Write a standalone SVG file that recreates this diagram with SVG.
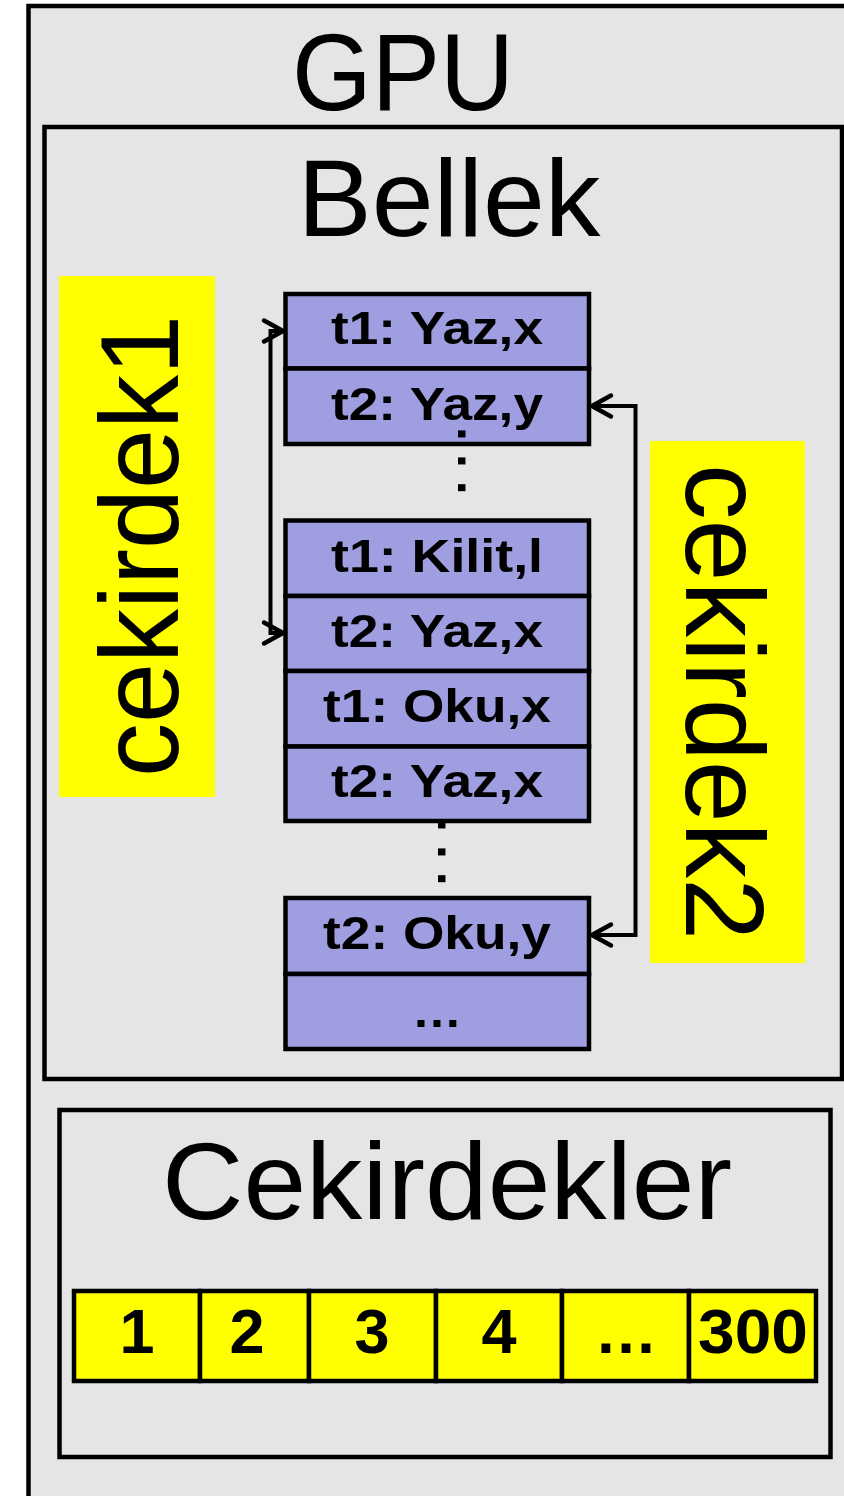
<svg xmlns="http://www.w3.org/2000/svg" width="844" height="1496" viewBox="0 0 844 1496">
  <style>
    .frame { fill: #e5e5e5; stroke: #000; stroke-width: 4.5; }
    .cell { fill: #9e9ee0; stroke: #000; stroke-width: 4.5; }
    .core { fill: #ffff00; stroke: #000; stroke-width: 4.5; }
    .band { fill: #ffff00; }
    .title { font-family: "Liberation Sans", Arial, sans-serif; font-size: 110px; fill: #000; text-anchor: middle; }
    .side { font-family: "Liberation Sans", Arial, sans-serif; font-size: 112px; fill: #000; }
    .op { font-family: "Liberation Sans", Arial, sans-serif; font-weight: bold; font-size: 47px; fill: #000; text-anchor: middle; }
    .num { font-family: "Liberation Sans", Arial, sans-serif; font-weight: bold; font-size: 63px; fill: #000; text-anchor: middle; }
    .vdots { font-family: "Liberation Sans", Arial, sans-serif; font-weight: bold; font-size: 50px; fill: #000; letter-spacing: 13px; }
    .link { fill: none; stroke: #000; stroke-width: 4; stroke-linejoin: miter; }
  </style>
  <defs>
    <marker id="chevron" markerUnits="userSpaceOnUse" viewBox="-26 -16 32 32" refX="0" refY="0" markerWidth="32" markerHeight="32" orient="auto-start-reverse">
      <path d="M-19,-10.5 L0,0 L-19,10.5" fill="none" stroke="#000" stroke-width="4.5" stroke-linecap="round" stroke-linejoin="round"/>
    </marker>
  </defs>

  <rect width="844" height="1496" fill="#ffffff"/>

  <!-- GPU enclosure -->
  <g id="gpu">
    <rect class="frame" x="28.5" y="6" width="830" height="1500"/>
    <text class="title" x="403" y="110" font-size="108" textLength="222" lengthAdjust="spacingAndGlyphs">GPU</text>
  </g>

  <!-- Memory block -->
  <g id="bellek">
    <rect class="frame" x="44.5" y="127" width="797.5" height="952"/>
    <text class="title" x="449" y="236" font-size="113" textLength="303" lengthAdjust="spacingAndGlyphs">Bellek</text>
  </g>

  <!-- Core labels -->
  <g id="cekirdek1">
    <rect class="band" x="59" y="276" width="156" height="521"/>
    <text class="side" transform="translate(178 777) rotate(-90)" textLength="462" lengthAdjust="spacingAndGlyphs">cekirdek1</text>
  </g>
  <g id="cekirdek2">
    <rect class="band" x="650" y="441" width="155" height="522"/>
    <text class="side" transform="translate(686 464) rotate(90)" textLength="476" lengthAdjust="spacingAndGlyphs">cekirdek2</text>
  </g>

  <!-- Memory operation queue -->
  <g id="op-t1-yaz-x">
    <rect class="cell" x="285.5" y="294" width="303.5" height="74.5"/>
    <text class="op" x="437" y="344" textLength="212" lengthAdjust="spacingAndGlyphs">t1: Yaz,x</text>
  </g>
  <g id="op-t2-yaz-y">
    <rect class="cell" x="285.5" y="368.5" width="303.5" height="75.5"/>
    <text class="op" x="437" y="419.5" textLength="212" lengthAdjust="spacingAndGlyphs">t2: Yaz,y</text>
  </g>
  <g id="op-t1-kilit-l">
    <rect class="cell" x="285.5" y="520.5" width="303.5" height="75.5"/>
    <text class="op" x="437" y="571.5" textLength="212" lengthAdjust="spacingAndGlyphs">t1: Kilit,l</text>
  </g>
  <g id="op-t2-yaz-x-a">
    <rect class="cell" x="285.5" y="596" width="303.5" height="75"/>
    <text class="op" x="437" y="647" textLength="212" lengthAdjust="spacingAndGlyphs">t2: Yaz,x</text>
  </g>
  <g id="op-t1-oku-x">
    <rect class="cell" x="285.5" y="671" width="303.5" height="75.5"/>
    <text class="op" x="437" y="722" textLength="228" lengthAdjust="spacingAndGlyphs">t1: Oku,x</text>
  </g>
  <g id="op-t2-yaz-x-b">
    <rect class="cell" x="285.5" y="746.5" width="303.5" height="74.5"/>
    <text class="op" x="437" y="797" textLength="212" lengthAdjust="spacingAndGlyphs">t2: Yaz,x</text>
  </g>
  <g id="op-t2-oku-y">
    <rect class="cell" x="285.5" y="898" width="303.5" height="76"/>
    <text class="op" x="437" y="949" textLength="228" lengthAdjust="spacingAndGlyphs">t2: Oku,y</text>
  </g>
  <g id="op-more">
    <rect class="cell" x="285.5" y="974" width="303.5" height="75"/>
    <text class="op" x="437" y="1027" font-size="60" textLength="50" lengthAdjust="spacingAndGlyphs">…</text>
  </g>

  <!-- vertical ellipses between queue segments -->
  <g id="gaps">
    <text class="vdots" transform="translate(457.5 427) rotate(90)">...</text>
    <text class="vdots" transform="translate(438 818) rotate(90)">...</text>
  </g>

  <!-- Connectors -->
  <g id="connectors">
    <path class="link" d="M283,331 H270.5 V633 H283" marker-start="url(#chevron)" marker-end="url(#chevron)"/>
    <path class="link" d="M592,406 H635.5 V935 H592" marker-start="url(#chevron)" marker-end="url(#chevron)"/>
  </g>

  <!-- Cores -->
  <g id="cekirdekler">
    <rect class="frame" x="59.5" y="1110" width="771" height="347"/>
    <text class="title" x="447" y="1219" font-size="113" textLength="570" lengthAdjust="spacingAndGlyphs">Cekirdekler</text>
  </g>
  <g id="core-1">
    <rect class="core" x="74" y="1291" width="126" height="90"/>
    <text class="num" x="137" y="1353">1</text>
  </g>
  <g id="core-2">
    <rect class="core" x="200" y="1291" width="109" height="90"/>
    <text class="num" x="247" y="1353">2</text>
  </g>
  <g id="core-3">
    <rect class="core" x="309" y="1291" width="127" height="90"/>
    <text class="num" x="372" y="1353">3</text>
  </g>
  <g id="core-4">
    <rect class="core" x="436" y="1291" width="126" height="90"/>
    <text class="num" x="499" y="1353">4</text>
  </g>
  <g id="core-more">
    <rect class="core" x="562" y="1291" width="127" height="90"/>
    <text class="num" x="626" y="1353">…</text>
  </g>
  <g id="core-300">
    <rect class="core" x="689" y="1291" width="127" height="90"/>
    <text class="num" x="753" y="1353" textLength="110" lengthAdjust="spacingAndGlyphs">300</text>
  </g>
</svg>
